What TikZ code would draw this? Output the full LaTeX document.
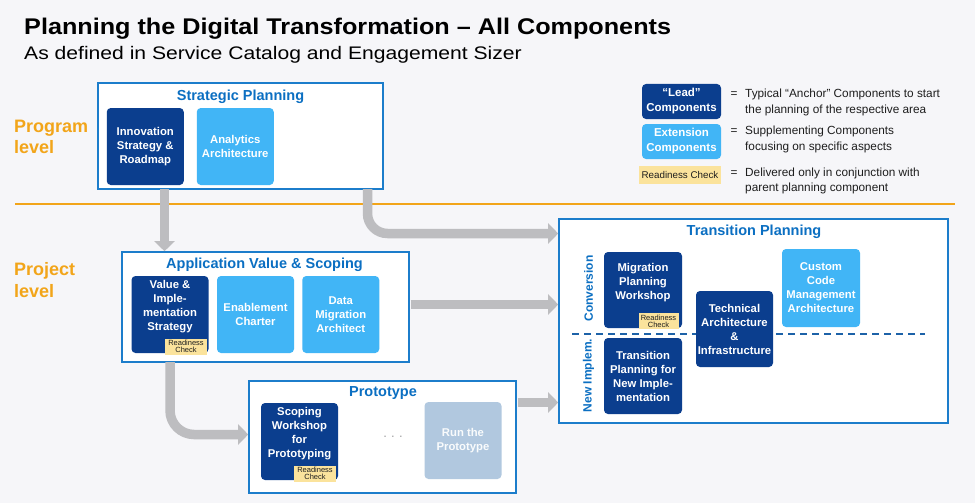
\documentclass[tikz,border=0pt]{standalone}
\usepackage{fontspec}
\setmainfont{Liberation Sans}
\usetikzlibrary{arrows.meta}

\definecolor{bgc}{HTML}{F6F6F9}
\definecolor{leadc}{HTML}{0B3E8E}
\definecolor{extc}{HTML}{41B5F6}
\definecolor{framec}{HTML}{1C7DCB}
\definecolor{headc}{HTML}{0B6FC2}
\definecolor{lvlc}{HTML}{F2A51A}
\definecolor{flowc}{HTML}{BDBDC0}
\definecolor{rcc}{HTML}{FBE39C}
\definecolor{fadedc}{HTML}{B1C8DF}
\definecolor{inkc}{HTML}{1E1E1E}
\definecolor{dashc}{HTML}{1D62A8}

\newcommand{\fs}[2]{\fontsize{#1}{#2}\selectfont}

\tikzset{
  comp/.style={rounded corners=4pt, minimum width=77, minimum height=77,
    inner sep=0pt, align=center, text=white, font=\bfseries\fs{11.3}{14}},
  leadbox/.style={comp, fill=leadc},
  extbox/.style={comp, fill=extc},
  fadedbox/.style={comp, fill=fadedc, text=white!92!fadedc},
  % text of a component that carries a readiness tag, set a little higher
  upper/.style={inner sep=0pt, align=center, text=white, font=\bfseries\fs{11.3}{14}},
  area/.style={draw=framec, line width=1.6pt, fill=white, inner sep=0pt},
  areatitle/.style={text=headc, font=\bfseries\fs{14.5}{17}},
  rcheck/.style={fill=rcc, inner sep=0pt, minimum width=42, minimum height=16,
    align=center, text=inkc, font=\fs{7.5}{7.6}},
  flow/.style={draw=flowc, line width=9.5pt,
    -{Triangle[length=10pt,width=20pt]}},
  lvltext/.style={text=lvlc, font=\bfseries\fs{18}{21.5}, align=left},
  legtext/.style={text=inkc, font=\fs{11.8}{15.3}, align=left},
  sidetext/.style={text=headc, font=\bfseries\fs{12}{14}, rotate=90}
}

\begin{document}
\begin{tikzpicture}[x=1pt,y=-1pt]
  \fill[bgc] (0,0) rectangle (975,503);
  \useasboundingbox (0,0) rectangle (975,503);

  % heading
  \node[anchor=base west, inner sep=0pt, text=black, font=\bfseries\fs{25.2}{28}]
    (title) at (24,35) {\scalebox{1}[0.9]{Planning the Digital Transformation -- All Components}};
  \node[anchor=base west, inner sep=0pt, text=black, font=\fs{20.9}{24}]
    (subtitle) at (24,59.3) {\scalebox{1.01}[0.87]{As defined in Service Catalog and Engagement Sizer}};

  % level separator
  \coordinate (sepL) at (15,203.5);
  \coordinate (sepR) at (955,203.5);
  \draw[draw=lvlc, line width=2pt] (sepL) -- (sepR);
  \node[lvltext, anchor=west, inner sep=0pt] (prog) at (14,137) {Program\\level};
  \node[lvltext, anchor=west, inner sep=0pt] (proj) at (14,280) {Project\\level};

  % area frames
  \node[area, minimum width=285, minimum height=106] (sp) at (240.5,136) {};
  \node[area, minimum width=287, minimum height=110] (avs) at (265.5,307) {};
  \node[area, minimum width=267, minimum height=112] (proto) at (382.5,437) {};
  \node[area, minimum width=389, minimum height=204] (tp) at (753.5,321) {};

  % flow arrows
  \coordinate (xa) at (164.5,0);
  \coordinate (xb) at (367.5,0);
  \coordinate (xc) at (170,0);
  \coordinate (yb) at (0,233.5);
  \coordinate (ym) at (0,304.5);
  \coordinate (yc) at (0,434.5);
  \coordinate (yd) at (0,402.5);
  \draw[flow] ([yshift=0.8]sp.south -| xa) -- (avs.north -| xa);
  \draw[flow, rounded corners=20pt] ([yshift=0.8]sp.south -| xb) |- (tp.west |- yb);
  \draw[flow, line width=8.5pt] ([xshift=0.8]avs.east |- ym) -- (tp.west |- ym);
  \draw[flow, rounded corners=24pt] ([yshift=0.8]avs.south -| xc) |- (proto.west |- yc);
  \draw[flow, line width=8.5pt] ([xshift=0.8]proto.east |- yd) -- (tp.west |- yd);

  % Strategic Planning
  \node[areatitle] (spt) at (240.5,96.7) {Strategic Planning};
  \node[leadbox] (inno) at (145.25,146.5) {Innovation\\Strategy \&\\Roadmap};
  \node[extbox] (ana) at (235.25,146.5) {Analytics\\Architecture};

  % Application Value & Scoping
  \node[areatitle] (avst) at (264.5,265) {Application Value \& Scoping};
  \node[leadbox] (vis) at (170,314.5) {};
  \node[upper] (vist) at (170,306.5) {Value \&\\Imple-\\mentation\\Strategy};
  \node[rcheck, anchor=south east] (vrc) at ([xshift=-1.5,yshift=-1.5]vis.south east) {Readiness\\Check};
  \node[extbox] (ench) at (255.5,314.5) {Enablement\\Charter};
  \node[extbox] (dma) at (340.75,314.5) {Data\\Migration\\Architect};

  % Prototype
  \node[areatitle] (protot) at (383,393) {Prototype};
  \node[leadbox] (swp) at (299.5,441.5) {};
  \node[upper] (swpt) at (299.5,433.5) {Scoping\\Workshop\\for\\Prototyping};
  \node[rcheck, anchor=south east] (src) at ([xshift=-2,yshift=-1.5]swp.south east) {Readiness\\Check};
  \node[text=flowc!85!black, font=\fs{13}{14}] (dots) at (393,437) {.\,\,.\,\,.};
  \node[fadedbox] (run) at (463,440.5) {Run the\\Prototype};

  % Transition Planning
  \node[areatitle] (tpt) at (754,232) {Transition Planning};
  \coordinate (dashL) at (572,334);
  \coordinate (dashR) at (925,334);
  \draw[dashc, line width=1.5pt, dash pattern=on 7pt off 5pt] (dashL) -- (dashR);
  \node[sidetext] (conv) at (588.5,288.5) {Conversion};
  \node[sidetext] (newi) at (588.5,375.5) {New Implem.};
  \node[leadbox, minimum width=78, minimum height=76] (mpw) at (643,290) {};
  \node[upper] (mpwt) at (643,283) {Migration\\Planning\\Workshop};
  \node[rcheck, anchor=south east, minimum width=40] (mrc) at ([xshift=-3.5,yshift=-1.2]mpw.south east) {Readiness\\Check};
  \node[leadbox, minimum width=78, minimum height=76] (tpni) at (643,376)
    {Transition\\Planning for\\New Imple-\\mentation};
  \node[leadbox, minimum height=76] (tai) at (734.5,329)
    {Technical\\Architecture\\\&\\Infrastructure};
  \node[extbox, minimum width=78, minimum height=78] (ccm) at (821,288)
    {Custom\\Code\\Management\\Architecture};

  % legend
  \node[comp, fill=leadc, minimum width=79, minimum height=35, font=\bfseries\fs{11.5}{15}]
    (lglead) at (681.5,101.5) {``Lead''\\Components};
  \node[comp, fill=extc, minimum width=79, minimum height=35, font=\bfseries\fs{11.5}{15}]
    (lgext) at (681.5,141.5) {Extension\\Components};
  \node[fill=rcc, inner sep=0pt, minimum width=82, minimum height=18, text=inkc,
    font=\fs{9.8}{11}] (lgrc) at (680,175) {Readiness Check};
  \node[legtext] (eq1) at (734,95) {=};
  \node[legtext] (eq2) at (734,132) {=};
  \node[legtext] (eq3) at (734,173.5) {=};
  \node[legtext, anchor=west, inner sep=0pt] (lt1) at (745,102.5)
    {Typical ``Anchor'' Components to start\\the planning of the respective area};
  \node[legtext, anchor=west, inner sep=0pt] (lt2) at (745,139.5)
    {Supplementing Components\\focusing on specific aspects};
  \node[legtext, anchor=west, inner sep=0pt] (lt3) at (745,181)
    {Delivered only in conjunction with\\parent planning component};
\end{tikzpicture}
\end{document}
